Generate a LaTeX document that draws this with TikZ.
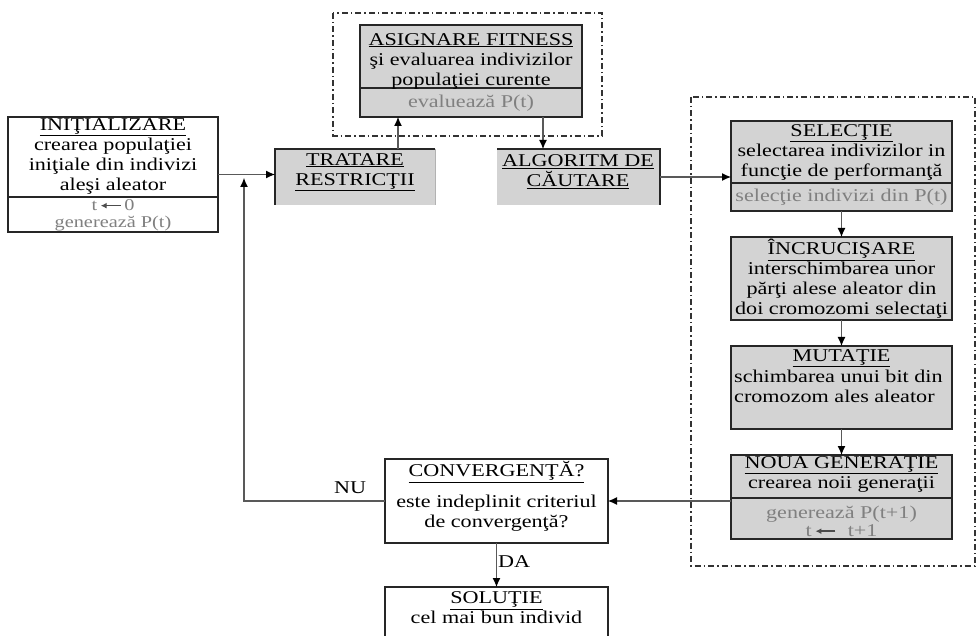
\documentclass[tikz,border=0pt]{standalone}
\usepackage{fontspec}
\setmainfont{Liberation Serif}[FakeStretch=1.23]
\usetikzlibrary{arrows.meta}
\definecolor{boxgray}{HTML}{D3D3D3}
\definecolor{txtgray}{HTML}{808080}
\newcommand\tarrow{\tikz[baseline=-0.6ex]\draw[black!70,line width=1.6pt,-{Latex[length=6pt,width=6pt]}] (20pt,0)--(0,0);}
\tikzset{
  box/.style={draw=black!85, line width=1.1pt, anchor=north west, inner sep=0pt, outer sep=0pt},
  gbox/.style={box, fill=boxgray},
  gfill/.style={fill=boxgray, anchor=north west, inner sep=0pt, outer sep=0pt},
  edge/.style={draw=black!85, line width=1.1pt},
  txt/.style={align=center, inner sep=0pt},
  gtxt/.style={txt, text=txtgray},
  lbl/.style={inner sep=0pt},
  arr/.style={draw=black!65, line width=1.1pt, -{Latex[length=9pt,width=8pt,color=black]}},
  frame/.style={draw=black!80, line width=1.2pt, dash pattern=on 6pt off 3pt on 1.5pt off 3pt}
}
\begin{document}
\begin{tikzpicture}[x=1pt,y=-1pt,font=\fontsize{18}{20}\selectfont]
\useasboundingbox (0,0) rectangle (980,636);
\fill[white] (0,0) rectangle (980,636);

% dash-dot frames
\draw[frame] (333,13) rectangle (602,136);
\draw[frame] (691,97) rectangle (975,566);

% INITIALIZARE
\node[box, minimum width=210pt, minimum height=115pt] (init) at (8,117) {};
\draw[edge] ([yshift=-80pt]init.north west) -- ([yshift=-80pt]init.north east);
\node[txt] (initT) at (113,156) {\underline{INIŢIALIZARE}\\crearea populaţiei\\iniţiale din indivizi\\aleşi aleator};
\node[gtxt, font=\fontsize{16.5}{17}\selectfont] (initB) at (113,215) {t\,\tarrow\,0\\generează P(t)};

% ASIGNARE FITNESS
\node[gbox, minimum width=222pt, minimum height=92pt] (asg) at (360,25) {};
\draw[edge] ([yshift=-63pt]asg.north west) -- ([yshift=-63pt]asg.north east);
\node[txt] (asgT) at (471,61) {\underline{ASIGNARE FITNESS}\\şi evaluarea indivizilor\\populaţiei curente};
\node[gtxt] (asgB) at (471,103) {evaluează P(t)};

% TRATARE RESTRICTII
\node[gfill, minimum width=160pt, minimum height=56pt] (trat) at (275,149) {};
\draw[edge] (trat.south west) -- (trat.north west) -- (trat.north east);
\draw[black!30, line width=1pt] (trat.north east) -- (trat.south east);
\node[txt] (tratT) at (355,172) {\underline{TRATARE}\\\underline{RESTRICŢII}};

% ALGORITM DE CAUTARE
\node[gfill, minimum width=163pt, minimum height=56pt] (alg) at (497,149) {};
\draw[edge] (alg.north west) -- (alg.north east) -- (alg.south east);
\node[txt] (algT) at (578,172) {\underline{ALGORITM DE}\\\underline{CĂUTARE}};

% SELECTIE
\node[gbox, minimum width=221pt, minimum height=90pt] (sel) at (731,121) {};
\draw[edge] ([yshift=-62pt]sel.north west) -- ([yshift=-62pt]sel.north east);
\node[txt] (selT) at (841.5,152) {\underline{SELECŢIE}\\selectarea indivizilor in\\funcţie de performanţă};
\node[gtxt] (selB) at (841.5,197) {selecţie indivizi din P(t)};

% INCRUCISARE
\node[gbox, minimum width=221pt, minimum height=83pt] (inc) at (731,237) {};
\node[txt] (incT) at (841.5,279) {\underline{ÎNCRUCIŞARE}\\interschimbarea unor\\părţi alese aleator din\\doi cromozomi selectaţi};

% MUTATIE
\node[gbox, minimum width=221pt, minimum height=83pt] (mut) at (731,346) {};
\node[txt] (mutT) at (841.5,358) {\underline{MUTAŢIE}};
\node[txt, align=left, anchor=west] (mutB) at (734,386) {schimbarea unui bit din\\cromozom ales aleator};

% NOUA GENERATIE
\node[gbox, minimum width=221pt, minimum height=84pt] (noua) at (731,455) {};
\draw[edge] ([yshift=-43pt]noua.north west) -- ([yshift=-43pt]noua.north east);
\node[txt] (nouaT) at (841.5,474) {\underline{NOUA GENERAŢIE}\\crearea noii generaţii};
\node[gtxt, font=\fontsize{18}{18}\selectfont] (nouaB) at (841.5,521) {generează P(t+1)\\t\,\tarrow\,\, t+1};

% CONVERGENTA
\node[box, fill=white, minimum width=223pt, minimum height=84pt] (conv) at (385,459) {};
\node[txt] (convT) at (496.5,472) {\underline{CONVERGENŢĂ?}};
\node[txt] (convB) at (496.5,513) {este indeplinit criteriul\\de convergenţă?};

% SOLUTIE
\node[box, fill=white, minimum width=223pt, minimum height=60pt] (sol) at (385,587) {};
\node[txt] (solT) at (496.5,608) {\underline{SOLUŢIE}\\cel mai bun individ};

% connectors
\coordinate (loopTop) at (244,178);
\draw[arr] (init.east) -- (init.east -| trat.west);
\draw[arr] (conv.west) -| (loopTop);
\draw[arr] ([xshift=43pt]trat.north) -- ([xshift=43pt]trat.north |- asg.south);
\draw[arr] ([xshift=-35.5pt]alg.north |- asg.south) -- ([xshift=-35.5pt]alg.north);
\draw[arr] (alg.east) -- (alg.east -| sel.west);
\draw[arr] (sel.south) -- (inc.north);
\draw[arr] (inc.south) -- (mut.north);
\draw[arr] (mut.south) -- (noua.north);
\draw[arr] (conv.east -| noua.west) -- (conv.east);
\draw[arr] (conv.south) -- (sol.north);

\node[lbl] (nu) at (350,488) {NU};
\node[lbl] (da) at (514,562) {DA};
\end{tikzpicture}
\end{document}
